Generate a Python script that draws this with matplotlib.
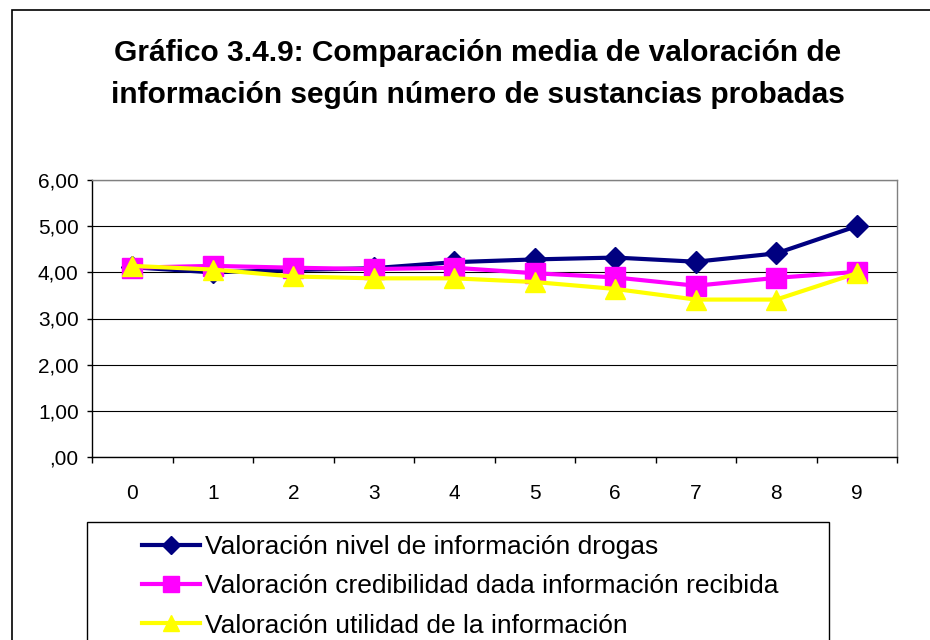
import matplotlib
matplotlib.use("Agg")
import matplotlib.pyplot as plt
from matplotlib.patches import Rectangle
from matplotlib.ticker import FixedLocator, FuncFormatter

plt.rcParams['font.family'] = ['Liberation Sans', 'DejaVu Sans']

# data
categories = ['0', '1', '2', '3', '4', '5', '6', '7', '8', '9']
nivel = [4.11, 4.00, 4.05, 4.09, 4.22, 4.28, 4.32, 4.23, 4.41, 5.00]
credibilidad = [4.10, 4.14, 4.10, 4.07, 4.10, 3.98, 3.89, 3.71, 3.88, 4.01]
utilidad = [4.14, 4.06, 3.91, 3.87, 3.87, 3.79, 3.64, 3.41, 3.41, 3.98]
labels = ['Valoración nivel de información drogas',
          'Valoración credibilidad dada información recibida',
          'Valoración utilidad de la información']
title = 'Gráfico 3.4.9: Comparación media de valoración de\ninformación según número de sustancias probadas'

fig = plt.figure(figsize=(9.3, 6.4), dpi=100)
ax = fig.add_axes([92/930, 1 - 457/640, (897 - 92)/930, (457 - 180)/640])

x = list(range(len(categories)))
ax.plot(x, nivel, color='#000080', lw=3, marker='D', ms=11.5, label=labels[0], zorder=3)
ax.plot(x, credibilidad, color='#FF00FF', lw=3, marker='s', ms=14, label=labels[1], zorder=4)
ax.plot(x, utilidad, color='#FFFF00', lw=3, marker='^', ms=15, label=labels[2], zorder=5)

ax.set_xlim(-0.5, len(categories) - 0.5)
ax.set_ylim(0, 6)
ax.set_yticks([0, 1, 2, 3, 4, 5, 6])
ax.yaxis.set_major_formatter(FuncFormatter(
    lambda v, p: ',00' if v == 0 else ('%.2f' % v).replace('.', ',')))
ax.set_xticks(x)
ax.set_xticklabels(categories)
ax.xaxis.set_minor_locator(FixedLocator([i - 0.5 for i in range(len(categories) + 1)]))
ax.tick_params(axis='x', which='major', length=0, pad=19.5, labelsize=15)
ax.tick_params(axis='x', which='minor', length=4.5, width=1, direction='out')
ax.tick_params(axis='y', length=3.6, width=1, direction='out', labelsize=15, pad=6)
ax.yaxis.grid(True, color='black', lw=0.8)
ax.set_axisbelow(True)
for s in ['left', 'bottom']:
    ax.spines[s].set_color('black')
    ax.spines[s].set_linewidth(1)
for s in ['top', 'right']:
    ax.spines[s].set_color('#808080')
    ax.spines[s].set_linewidth(1)

fig.text(478/930, 1 - 74/640, title, ha='center', va='center',
         fontsize=21.5, fontweight='bold', linespacing=1.68)

# legend box (drawn separately: it is wider than its text and runs off the bottom)
fig.patches.append(Rectangle((87/930, -0.1), (829 - 87)/930, 0.1 + 1 - 522/640,
                             transform=fig.transFigure, fill=False,
                             edgecolor='black', lw=1, clip_on=False))
leg = fig.legend(loc='upper left', bbox_to_anchor=(142/930, 1 - 535/640),
                 fontsize=19, frameon=False, handlelength=2.2, handletextpad=0.2,
                 labelspacing=0.58, borderpad=0, borderaxespad=0, markerscale=0.8)

# outer chart frame
fig.patches.append(Rectangle((12/930, -0.1), 1.2, 1.1 - 10/640,
                             transform=fig.transFigure, fill=False,
                             edgecolor='black', lw=1.2, clip_on=False))

fig.savefig('out.png', dpi=100)
